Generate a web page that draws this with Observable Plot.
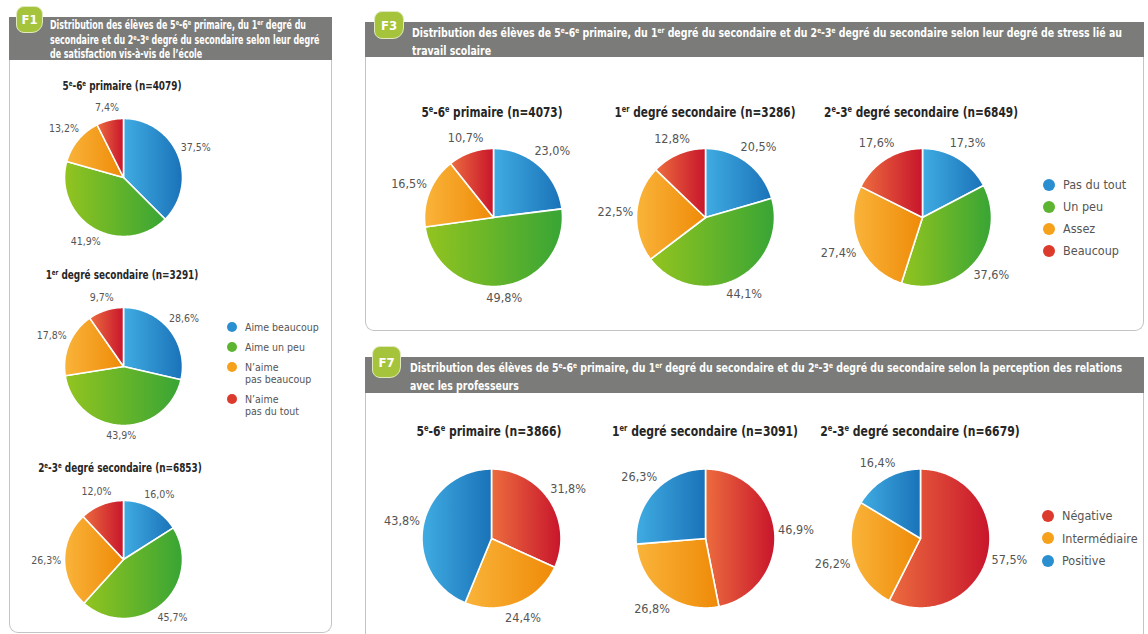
<!DOCTYPE html>
<html><head><meta charset="utf-8">
<script src="https://cdn.jsdelivr.net/npm/d3@7"></script>
<script src="https://cdn.jsdelivr.net/npm/@observablehq/plot@0.6"></script>
<style>
body{margin:0;background:#fff;width:1148px;height:634px;overflow:hidden;position:relative;font-family:"DejaVu Sans Condensed","DejaVu Sans",sans-serif;font-stretch:condensed;}
.bar{position:absolute;background:#7b7c79;}
.ttl{position:absolute;color:#fff;font-weight:bold;transform-origin:0 0;}
.ttl div{white-space:nowrap;}
.ttl span{display:inline-block;}
.pbody{position:absolute;border:1.5px solid #c4c4c4;border-top:none;border-radius:0 0 9px 9px;box-sizing:border-box;}
.badge{position:absolute;background:#a6c43b;color:#fff;font-weight:bold;border:1.5px solid #dfe9bd;border-radius:8px 8px 11px 8px;display:flex;align-items:center;justify-content:center;box-sizing:border-box;font-family:"DejaVu Sans",sans-serif;}
.ptitle{position:absolute;font-weight:bold;color:#262626;white-space:nowrap;transform-origin:50% 50%;}
sup{font-size:0.62em;vertical-align:0;position:relative;top:-0.55em;}
.leg{position:absolute;color:#555;}
.leg div{position:relative;white-space:nowrap;}
.leg span.dot{position:absolute;border-radius:50%;}
.pie{position:absolute;}
</style></head>
<body>
<svg width="0" height="0" style="position:absolute">
 <defs>
  <linearGradient id="gBlue" x1="0" x2="1" y1="0" y2="0"><stop offset="0" stop-color="#40ace2"/><stop offset="1" stop-color="#1a72b8"/></linearGradient>
  <linearGradient id="gGreen" x1="0" x2="1" y1="0" y2="0"><stop offset="0" stop-color="#93c41f"/><stop offset="1" stop-color="#38a535"/></linearGradient>
  <linearGradient id="gOrange" x1="0" x2="1" y1="0" y2="0"><stop offset="0" stop-color="#f9b43a"/><stop offset="1" stop-color="#ef8a08"/></linearGradient>
  <linearGradient id="gRed" x1="0" x2="1" y1="0" y2="0"><stop offset="0" stop-color="#ec6c3e"/><stop offset="1" stop-color="#c8152c"/></linearGradient>
 </defs>
</svg>

<!-- F1 panel -->
<div class="bar" style="left:9px;top:17px;width:323px;height:43px"></div>
<div class="pbody" style="left:9px;top:60px;width:323px;height:573px"></div>
<div class="badge" style="left:16px;top:6px;width:27px;height:27px;font-size:13px">F1</div>
<div class="ttl" id="t1" style="left:50px;top:19px;font-size:11.5px;line-height:13.5px"></div>

<!-- F3 panel -->
<div class="bar" style="left:365px;top:22px;width:779px;height:35px"></div>
<div class="pbody" style="left:365px;top:57px;width:779px;height:274px"></div>
<div class="badge" style="left:374px;top:11px;width:30px;height:28px;font-size:13px">F3</div>
<div class="ttl" id="t3" style="left:412px;top:25px;font-size:12.5px;line-height:16px"></div>

<!-- F7 panel -->
<div class="bar" style="left:365px;top:357px;width:779px;height:36px"></div>
<div class="pbody" style="left:365px;top:393px;width:779px;height:260px"></div>
<div class="badge" style="left:372px;top:346px;width:29px;height:32px;font-size:13px">F7</div>
<div class="ttl" id="t7" style="left:410px;top:360px;font-size:12.5px;line-height:16px"></div>

<div id="root"></div>

<script>
// ---------- data ----------
const f1TitleLines = [
  "Distribution des élèves de 5e-6e primaire, du 1er degré du",
  "secondaire et du 2e-3e degré du secondaire selon leur degré",
  "de satisfaction vis-à-vis de l’école"
];
const f3TitleLines = [
  "Distribution des élèves de 5e-6e primaire, du 1er degré du secondaire et du 2e-3e degré du secondaire selon leur degré de stress lié au",
  "travail scolaire"
];
const f7TitleLines = [
  "Distribution des élèves de 5e-6e primaire, du 1er degré du secondaire et du 2e-3e degré du secondaire selon la perception des relations",
  "avec les professeurs"
];
const levels = ["5e-6e primaire", "1er degré secondaire", "2e-3e degré secondaire"];

const f1Categories = ["Aime beaucoup", "Aime un peu", "N’aime pas beaucoup", "N’aime pas du tout"];
const f1LegendLines = [["Aime beaucoup"], ["Aime un peu"], ["N’aime", "pas beaucoup"], ["N’aime", "pas du tout"]];
const f1N = [4079, 3291, 6853];
const f1Values = [
  [37.5, 41.9, 13.2, 7.4],
  [28.6, 43.9, 17.8, 9.7],
  [16.0, 45.7, 26.3, 12.0]
];

const f3Categories = ["Pas du tout", "Un peu", "Assez", "Beaucoup"];
const f3N = [4073, 3286, 6849];
const f3Values = [
  [23.0, 49.8, 16.5, 10.7],
  [20.5, 44.1, 22.5, 12.8],
  [17.3, 37.6, 27.4, 17.6]
];

const f7Categories = ["Négative", "Intermédiaire", "Positive"];
const f7N = [3866, 3091, 6679];
const f7Values = [
  [31.8, 24.4, 43.8],
  [46.9, 26.8, 26.3],
  [57.5, 26.2, 16.4]
];

const fourGrad = ["url(#gBlue)", "url(#gGreen)", "url(#gOrange)", "url(#gRed)"];
const fourDot = ["#2a8fd0", "#5db431", "#f5a11c", "#dc3a2c"];
const threeGrad = ["url(#gRed)", "url(#gOrange)", "url(#gBlue)"];
const threeDot = ["#dc3a2c", "#f5a11c", "#2a8fd0"];

// ---------- helpers ----------
const FONT = '"DejaVu Sans Condensed","DejaVu Sans",sans-serif';
const sup = s => s.replace(/(\d)(er|e)(?=[\s\-,)]|$)/g, "$1<sup>$2</sup>");
const root = document.getElementById("root");
const fmt = v => v.toFixed(1).replace(".", ",") + "%";

// header titles: explicit lines, squeezed horizontally to the reference line width
function headerTitle(id, lines, firstLineWidth) {
  const el = document.getElementById(id);
  el.innerHTML = lines.map(l => `<div><span>${sup(l)}</span></div>`).join("");
  const w = el.querySelector("span").getBoundingClientRect().width;
  const k = Math.min(1, firstLineWidth / w);
  el.style.transform = `scaleX(${k})`;
}
headerTitle("t1", f1TitleLines, 256);
headerTitle("t3", f3TitleLines, 710);
headerTitle("t7", f7TitleLines, 712);

function drawPie(values, cats, colors, cx, cy, r, fs) {
  const W = 300, H = 240;
  const data = values.map((v, i) => ({v, cat: cats[i]}));
  const arcs = d3.pie().sort(null).value(d => d.v)(data);
  const pts = [];
  arcs.forEach(a => {
    pts.push({cat: a.data.cat, x: 0, y: 0});
    const n = Math.max(2, Math.ceil((a.endAngle - a.startAngle) / (Math.PI / 180)));
    for (let k = 0; k <= n; k++) {
      const t = a.startAngle + (a.endAngle - a.startAngle) * k / n;
      pts.push({cat: a.data.cat, x: r * Math.sin(t), y: -r * Math.cos(t)});
    }
  });
  const hw = fs * 1.35, hh = fs * 0.5, gap = 4;
  const labels = arcs.map(a => {
    const m = (a.startAngle + a.endAngle) / 2;
    const sx = Math.sin(m), sy = -Math.cos(m);
    const d = r + gap + hw * Math.abs(sx) + hh * Math.abs(sy);
    return {x: d * sx, y: d * sy, text: fmt(a.data.v)};
  });
  const plot = Plot.plot({
    width: W, height: H, margin: 0,
    style: {background: "transparent", overflow: "visible", fontFamily: FONT, fontStretch: "condensed"},
    x: {domain: [-W / 2, W / 2], axis: null},
    y: {domain: [H / 2, -H / 2], axis: null},
    color: {type: "ordinal", domain: cats, range: colors},
    marks: [
      Plot.line(pts, {x: "x", y: "y", z: "cat", fill: "cat", stroke: "white", strokeWidth: 1.6, curve: "linear-closed"}),
      Plot.text(labels, {x: "x", y: "y", text: "text", fill: "#555", fontSize: fs, textAnchor: "middle", lineAnchor: "middle"})
    ]
  });
  const wrap = document.createElement("div");
  wrap.className = "pie";
  wrap.style.left = (cx - W / 2) + "px";
  wrap.style.top = (cy - H / 2) + "px";
  wrap.style.width = W + "px";
  wrap.appendChild(plot);
  root.appendChild(wrap);
}

function pieTitle(text, cx, cy, fs, k) {
  const d = document.createElement("div");
  d.className = "ptitle";
  d.style.left = cx + "px"; d.style.top = cy + "px"; d.style.fontSize = fs + "px";
  d.innerHTML = sup(text);
  root.appendChild(d);
  d.style.transform = `translate(-50%,-50%) scaleX(${k})`;
}
// squeeze factor so that the first title of a panel matches the reference width
function pieTitles(texts, xs, ys, fs, firstWidth) {
  const probe = document.createElement("div");
  probe.className = "ptitle"; probe.style.fontSize = fs + "px"; probe.style.visibility = "hidden";
  probe.innerHTML = sup(texts[0]); root.appendChild(probe);
  const k = Math.min(1, firstWidth / probe.getBoundingClientRect().width);
  probe.remove();
  texts.forEach((t, i) => pieTitle(t, xs[i], ys[i], fs, k));
}

function legend(lines, colors, left, top, fs, dotR, lh, spacing) {
  const L = document.createElement("div");
  L.className = "leg";
  L.style.left = left + "px"; L.style.top = top + "px";
  L.style.fontSize = fs + "px"; L.style.lineHeight = lh + "px";
  lines.forEach((ls, i) => {
    const it = document.createElement("div");
    it.style.paddingLeft = (dotR * 2 + 8) + "px";
    it.style.marginBottom = spacing + "px";
    it.innerHTML = ls.join("<br>");
    const dot = document.createElement("span");
    dot.className = "dot";
    dot.style.width = dot.style.height = (dotR * 2) + "px";
    dot.style.left = "0px"; dot.style.top = (lh / 2 - dotR) + "px";
    dot.style.background = colors[i];
    it.appendChild(dot);
    L.appendChild(it);
  });
  root.appendChild(L);
}

// ---------- F1 ----------
const f1Centers = [[123, 177], [123, 366], [123, 559]];
f1Values.forEach((vals, i) => drawPie(vals, f1Categories, fourGrad, f1Centers[i][0], f1Centers[i][1], 59, 10.5));
pieTitles(levels.map((l, i) => `${l} (n=${f1N[i]})`), [122, 122, 120], [86, 275, 468], 12, 119);
legend(f1LegendLines, fourDot, 227, 321, 10.5, 5, 12, 8);

// ---------- F3 ----------
const f3Cx = [493, 705, 922];
f3Values.forEach((vals, i) => drawPie(vals, f3Categories, fourGrad, f3Cx[i], 217, 69, 12.5));
pieTitles(levels.map((l, i) => `${l} (n=${f3N[i]})`), [492, 705, 921], [112, 112, 112], 14, 141);
legend(f3Categories.map(c => [c]), fourDot, 1043, 177, 12.5, 6, 15, 7);

// ---------- F7 ----------
const f7Cx = [491, 705, 920];
f7Values.forEach((vals, i) => drawPie(vals, f7Categories, threeGrad, f7Cx[i], 538, 69.5, 12.5));
pieTitles(levels.map((l, i) => `${l} (n=${f7N[i]})`), [489, 705, 920], [431, 431, 431], 14, 145);
legend(f7Categories.map(c => [c]), threeDot, 1042, 508, 12.5, 6, 15, 7.5);
</script>
</body></html>
